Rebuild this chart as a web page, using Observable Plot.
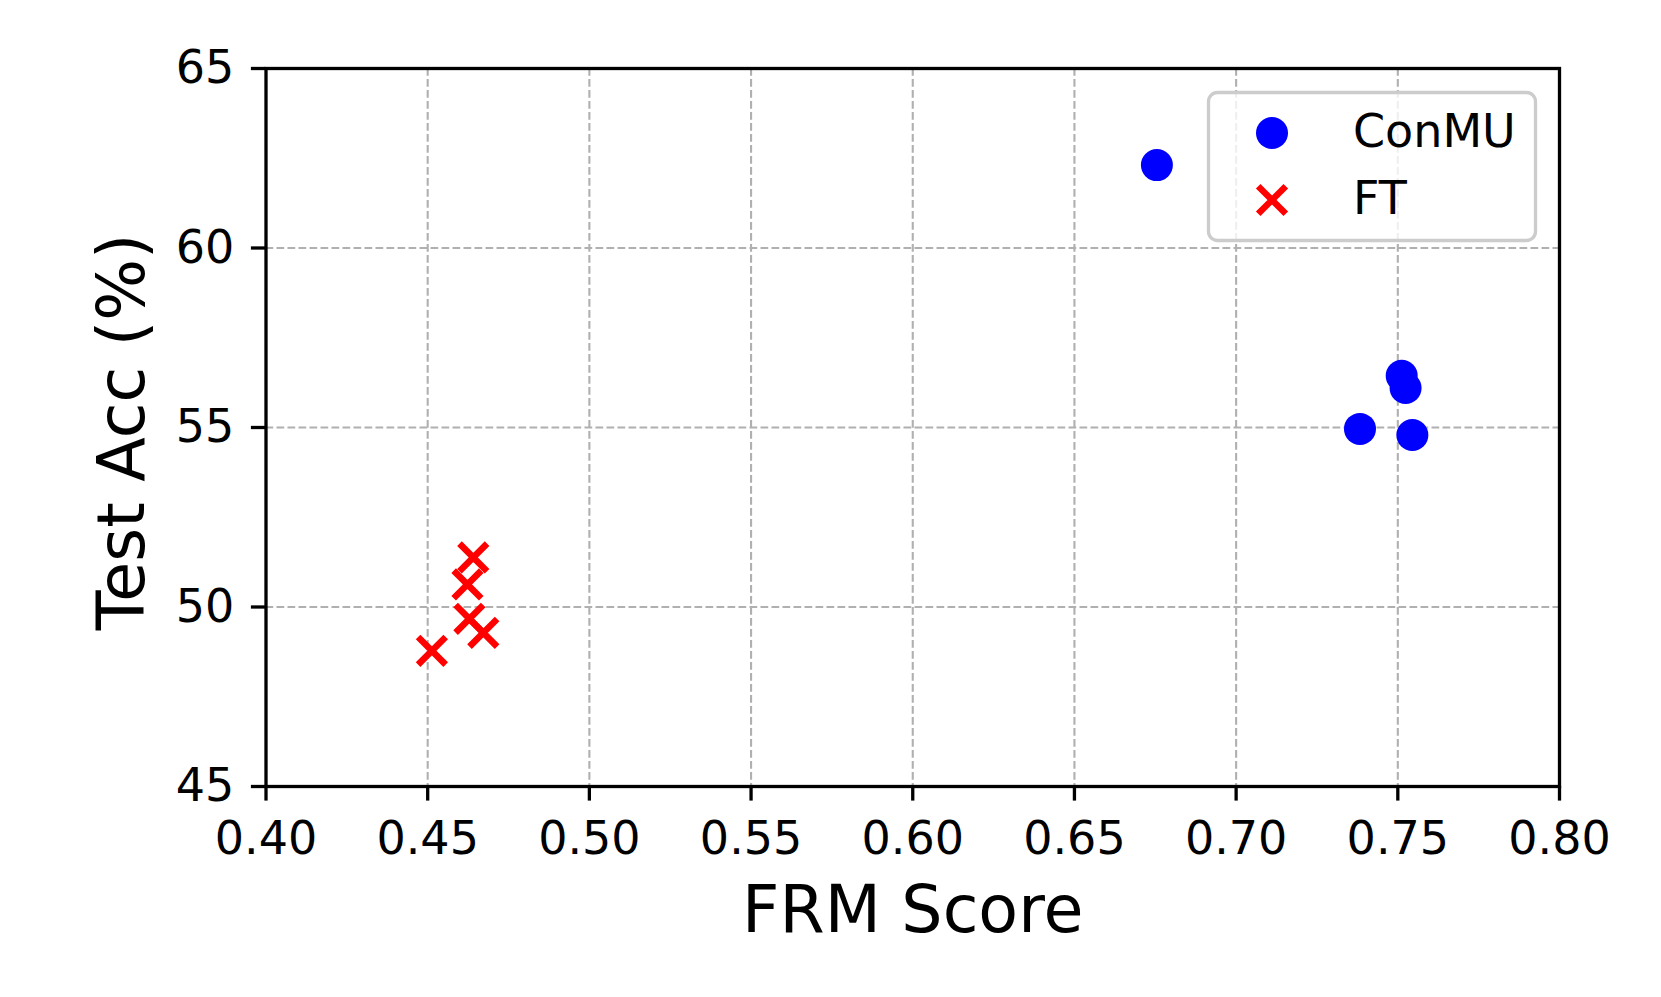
<!DOCTYPE html>
<html>
<head>
<meta charset="utf-8">
<script src="https://cdn.jsdelivr.net/npm/d3@7"></script>
<script src="https://cdn.jsdelivr.net/npm/@observablehq/plot@0.6"></script>
<style>
  html, body { margin: 0; padding: 0; background: #fff; }
  #chart { position: relative; width: 1661px; height: 997px; }
</style>
</head>
<body>
<div id="chart"></div>
<script>
// ---- data ----
const seriesNames = ["ConMU", "FT"];
const conmuX = [0.6755, 0.7512, 0.7524, 0.7383, 0.7545];
const conmuY = [62.31, 56.44, 56.10, 54.96, 54.79];
const ftX = [0.4513, 0.4641, 0.4623, 0.4629, 0.4672];
const ftY = [48.78, 51.38, 50.63, 49.67, 49.28];
const xTicks = [0.40, 0.45, 0.50, 0.55, 0.60, 0.65, 0.70, 0.75, 0.80];
const yTicks = [45, 50, 55, 60, 65];
const xLabel = "FRM Score";
const yLabel = "Test Acc (%)";

const conmu = conmuX.map((x, i) => ({x, y: conmuY[i]}));
const ft = ftX.map((x, i) => ({x, y: ftY[i]}));

// matplotlib-like "x" marker: r is the half-extent
const crossSymbol = {
  draw(ctx, size) {
    const r = Math.sqrt(size / Math.PI);
    ctx.moveTo(-r, -r); ctx.lineTo(r, r);
    ctx.moveTo(-r, r); ctx.lineTo(r, -r);
  }
};

const font = "DejaVu Sans";
const gridStyle = {stroke: "#b0b0b0", strokeOpacity: 1, strokeWidth: 2.1, strokeDasharray: "7.7,3.3"};

const chart = Plot.plot({
  width: 1661,
  height: 997,
  marginLeft: 265.5,
  marginRight: 102,
  marginTop: 68,
  marginBottom: 211,
  style: {fontFamily: font, color: "black", background: "white"},
  x: {domain: [0.4, 0.8]},
  y: {domain: [45, 65]},
  marks: [
    Plot.gridX(xTicks, gridStyle),
    Plot.gridY(yTicks, gridStyle),
    Plot.dot(conmu, {x: "x", y: "y", r: 16, fill: "#0000ff", stroke: "none"}),
    Plot.dot(ft, {x: "x", y: "y", r: 13.8, symbol: crossSymbol, stroke: "#ff0000", strokeWidth: 6.5, fill: "none"}),
    Plot.axisX({ticks: xTicks, tickFormat: d3.format(".2f"), tickSize: 14.6, tickPadding: 20, fontSize: 46, strokeWidth: 3.3, label: null}),
    Plot.axisY({ticks: yTicks, tickFormat: d3.format("d"), tickSize: 14.6, tickPadding: 17, fontSize: 46, strokeWidth: 3.3, label: null}),
    Plot.frame({stroke: "black", strokeWidth: 3.3}),
    Plot.text([xLabel], {frameAnchor: "bottom", lineAnchor: "bottom", dy: 145.7, fontSize: 65, fill: "black"}),
    Plot.text([yLabel], {frameAnchor: "left", rotate: -90, lineAnchor: "bottom", textAnchor: "middle", dx: -122.5, dy: 4.5, fontSize: 65, fill: "black"})
  ]
});

document.getElementById("chart").appendChild(chart);

// ---- legend (inside the axes, upper right) ----
const svg = d3.select(chart);
const lg = svg.append("g").attr("font-family", font).attr("text-anchor", "start");
lg.append("rect")
  .attr("x", 1208.5).attr("y", 92.5).attr("width", 327).attr("height", 148)
  .attr("rx", 9).attr("ry", 9)
  .attr("fill", "white").attr("fill-opacity", 0.8)
  .attr("stroke", "#cccccc").attr("stroke-width", 3.3);
const entries = [
  {name: seriesNames[0], cy: 133},
  {name: seriesNames[1], cy: 200}
];
lg.append("circle").attr("cx", 1272).attr("cy", entries[0].cy).attr("r", 16).attr("fill", "#0000ff");
const h = 13.8, cx = 1272, cy = entries[1].cy;
lg.append("path")
  .attr("d", `M${cx - h},${cy - h}L${cx + h},${cy + h}M${cx - h},${cy + h}L${cx + h},${cy - h}`)
  .attr("stroke", "#ff0000").attr("stroke-width", 6.5).attr("fill", "none");
entries.forEach(e => {
  lg.append("text").attr("x", 1353).attr("y", e.cy + 14)
    .attr("text-anchor", "start")
    .attr("font-size", 46).attr("fill", "black").text(e.name);
});
</script>
</body>
</html>
